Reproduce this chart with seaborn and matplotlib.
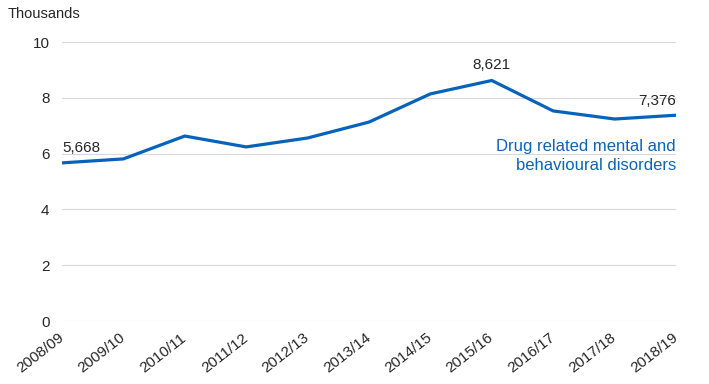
import matplotlib
matplotlib.use("Agg")
import matplotlib.pyplot as plt
import seaborn as sns
import pandas as pd

years = ["2008/09", "2009/10", "2010/11", "2011/12", "2012/13", "2013/14",
         "2014/15", "2015/16", "2016/17", "2017/18", "2018/19"]
values = [5.668, 5.81, 6.63, 6.24, 6.56, 7.13, 8.14, 8.621, 7.53, 7.24, 7.376]
yticks = [0, 2, 4, 6, 8, 10]
series_label = "Drug related mental and\nbehavioural disorders"

sns.set_theme(style="white")
plt.rcParams['font.family'] = ['Liberation Sans', 'DejaVu Sans']

df = pd.DataFrame({"idx": range(len(years)), "year": years, "value": values})

fig = plt.figure(figsize=(7.09, 3.84), dpi=100)
ax = fig.add_axes([0.0874, 0.164, 0.866, 0.7266])

line_color = "#0563bb"
text_color = "#262626"

sns.lineplot(data=df, x="idx", y="value", ax=ax, color=line_color, linewidth=2.3)

ax.set_xlim(0, len(years) - 1)
ax.set_ylim(0, 10)
ax.set_yticks(yticks)
ax.set_yticklabels([str(t) for t in yticks], fontsize=11, color=text_color)
ax.set_xticks(range(len(years)))
ax.set_xticklabels(years, rotation=38, ha="right", va="center",
                   rotation_mode="anchor", fontsize=11, color=text_color)
ax.tick_params(axis="x", length=0, pad=11)
ax.tick_params(axis="y", length=0, pad=9)
ax.set_xlabel("")
ax.set_ylabel("")
ax.grid(axis="y", color="#d9d9d9", linewidth=0.8)
ax.set_axisbelow(True)
for s in ax.spines.values():
    s.set_visible(False)

fig.text(8 / 709, 1 - 14 / 384, "Thousands", fontsize=10.5, color=text_color,
         ha="left", va="center")

def fmt(v):
    return f"{int(round(v * 1000)):,}"

ax.annotate(fmt(values[0]), (0, values[0]), xytext=(0, 6), textcoords="offset points",
            ha="left", va="bottom", fontsize=11, color=text_color)
ax.annotate(fmt(values[7]), (7, values[7]), xytext=(0, 6), textcoords="offset points",
            ha="center", va="bottom", fontsize=11, color=text_color)
ax.annotate(fmt(values[-1]), (len(years) - 1, values[-1]), xytext=(0, 5),
            textcoords="offset points", ha="right", va="bottom", fontsize=11,
            color=text_color)

ax.text(len(years) - 1, 5.92, series_label, ha="right", va="center",
        fontsize=12, color="#0a64b9", linespacing=1.35)

fig.savefig("out.png", dpi=100)
